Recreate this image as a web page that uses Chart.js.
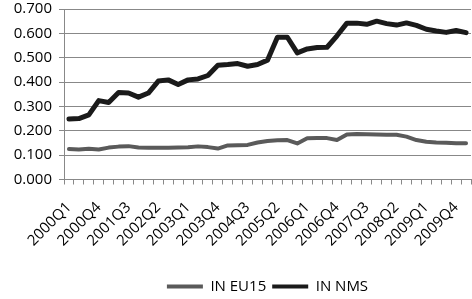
<!DOCTYPE html>
<html><head><meta charset="utf-8">
<script src="https://cdn.jsdelivr.net/npm/chart.js@4/dist/chart.umd.min.js"></script>
<style>html,body{margin:0;padding:0;background:#fff}#wrap{width:472px;height:299px}</style>
</head><body><div id="wrap"><canvas id="c" width="472" height="299"></canvas></div>
<script>
const categories = ["2000Q1","2000Q2","2000Q3","2000Q4","2001Q1","2001Q2","2001Q3","2001Q4",
  "2002Q1","2002Q2","2002Q3","2002Q4","2003Q1","2003Q2","2003Q3","2003Q4",
  "2004Q1","2004Q2","2004Q3","2004Q4","2005Q1","2005Q2","2005Q3","2005Q4",
  "2006Q1","2006Q2","2006Q3","2006Q4","2007Q1","2007Q2","2007Q3","2007Q4",
  "2008Q1","2008Q2","2008Q3","2008Q4","2009Q1","2009Q2","2009Q3","2009Q4","2010Q1"];
const shownLabels = ["2000Q1","2000Q4","2001Q3","2002Q2","2003Q1","2003Q4","2004Q3",
  "2005Q2","2006Q1","2006Q4","2007Q3","2008Q2","2009Q1","2009Q4"];
const euValues = [0.125,0.123,0.126,0.123,0.131,0.135,0.137,0.131,0.130,0.130,0.130,0.131,0.132,0.136,0.133,0.127,
  0.140,0.141,0.142,0.152,0.158,0.161,0.162,0.148,0.169,0.170,0.170,0.162,0.185,0.187,0.186,0.185,
  0.184,0.184,0.176,0.162,0.155,0.152,0.151,0.149,0.149];
const nmsValues = [0.248,0.250,0.265,0.324,0.316,0.357,0.355,0.338,0.355,0.404,0.409,0.390,0.409,0.413,0.427,0.469,
  0.472,0.476,0.465,0.472,0.490,0.584,0.584,0.520,0.536,0.542,0.543,0.590,0.642,0.642,0.637,0.650,
  0.640,0.634,0.643,0.633,0.617,0.610,0.604,0.612,0.603];
const yTicks = [0,0.1,0.2,0.3,0.4,0.5,0.6,0.7];
const seriesNames = ["IN EU15","IN NMS"];

const FONT = {family:"'Open Sans', sans-serif", size:15};
new Chart(document.getElementById('c'), {
  type:'line',
  data:{labels:categories, datasets:[
    {label:seriesNames[0], data:euValues, borderColor:'#5a5a5a', backgroundColor:'#5a5a5a', borderWidth:4,
     pointRadius:0, tension:0, borderJoinStyle:'round', borderCapStyle:'round'},
    {label:seriesNames[1], data:nmsValues, borderColor:'#1a1a1a', backgroundColor:'#1a1a1a', borderWidth:5,
     pointRadius:0, tension:0, borderJoinStyle:'round', borderCapStyle:'round'}
  ]},
  options:{
    responsive:false, animation:false, devicePixelRatio:1,
    layout:{padding:{top:9,right:1,left:0,bottom:-5}},
    plugins:{
      tooltip:{enabled:false},
      legend:{position:'bottom', fullSize:false,
        labels:{boxWidth:36, boxHeight:4, padding:6, color:'#000', font:FONT,
          generateLabels(chart){
            return chart.data.datasets.map((d,i)=>({text:d.label, fillStyle:d.borderColor, strokeStyle:d.borderColor,
              lineWidth:0, hidden:false, datasetIndex:i, fontColor:'#000'}));
          }}}
    },
    scales:{
      x:{offset:true,
        grid:{offset:true, drawOnChartArea:false, drawTicks:true, tickLength:5, color:'#888'},
        border:{color:'#888'},
        ticks:{autoSkip:false, maxRotation:45, minRotation:45, color:'#000', font:FONT, padding:14,
          callback(v,i){const l=categories[i]; return shownLabels.includes(l)?l:'';}},
        afterFit(s){s.height=93.5; s.paddingLeft=0; s.paddingRight=0;}
      },
      y:{min:0, max:0.7,
        afterBuildTicks(s){s.ticks=yTicks.map(v=>({value:v}));},
        ticks:{callback:v=>Number(v).toFixed(3), color:'#000', font:FONT, padding:7},
        grid:{color:'#888', tickLength:5},
        border:{color:'#888'},
        afterFit(s){s.width=64; s.paddingTop=0; s.paddingBottom=0;}
      }
    }
  }
});
</script></body></html>
